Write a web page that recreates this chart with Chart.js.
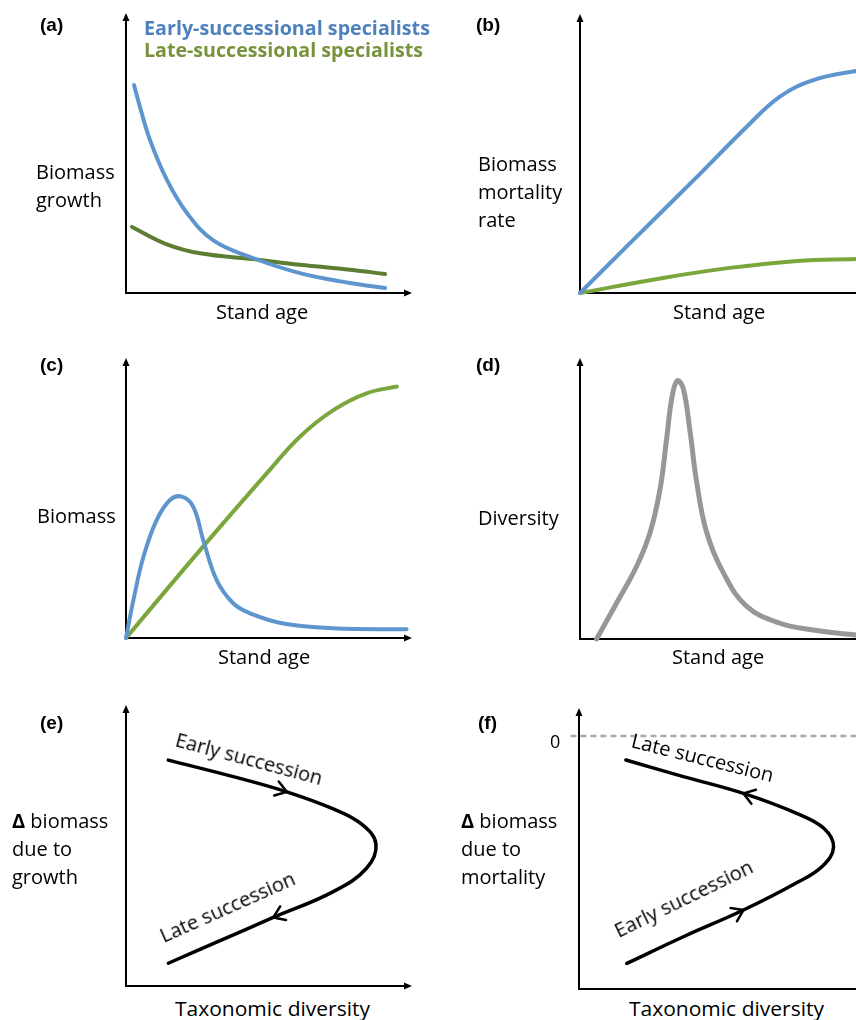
<!DOCTYPE html>
<html>
<head>
<meta charset="utf-8">
<script src="https://cdn.jsdelivr.net/npm/chart.js@4.4.1/dist/chart.umd.min.js"></script>
<style>
  html, body { margin: 0; padding: 0; background: #fff; }
  #page { position: relative; width: 856px; height: 1020px; overflow: hidden; font-family: 'Open Sans', sans-serif; }
  #page canvas { position: absolute; }
  .lbl { position: absolute; white-space: pre; font-size: 20px; line-height: 28px; color: #000; transform-origin: 0 21.76px; }
  .tag { position: absolute; font-family: 'Liberation Sans', Arial, sans-serif; font-weight: bold; font-size: 19px; line-height: 19px; }
</style>
</head>
<body>
<div id="page"></div>
<script>
// (a) biomass growth vs stand age
const growthAgeEarly = [2.8, 4.9, 8.4, 14.3, 21.3, 30.4, 44.4, 60.8, 78.3, 90.6];
const growthEarly    = [74.3, 66.4, 54.6, 40.4, 28.6, 18.9, 12.5, 7.1, 3.6, 1.8];
const growthAgeLate  = [2.1, 14.3, 25.9, 44.4, 60.8, 78.3, 90.6];
const growthLate     = [23.6, 17.4, 14.2, 12.1, 10.1, 8.3, 6.8];

// (b) biomass mortality rate vs stand age
const mortAgeEarly = [0, 17.5, 40.9, 58.3, 69.9, 81.6, 96.5, 100];
const mortEarly    = [0, 17.9, 41.6, 59.6, 70.4, 76.3, 79.6, 80.0];
const mortAgeLate  = [0, 29.0, 52.4, 75.9, 96.5, 100];
const mortLate     = [0, 5.4, 9.0, 11.5, 12.2, 12.3];

// (c) biomass vs stand age
const bioAgeEarly = [0, 2.6, 6.1, 10.7, 15.4, 19.5, 23.5, 27.0, 31.7, 37.5, 43.4, 55.0, 72.5, 98.1];
const bioEarly    = [0, 13.6, 29.0, 42.1, 49.3, 50.5, 46.9, 35.0, 20.7, 12.4, 8.8, 5.2, 3.5, 3.1];
const bioAgeLate  = [0, 25.9, 49.2, 60.8, 72.5, 84.1, 94.7];
const bioLate     = [0, 31.4, 58.8, 71.9, 81.4, 87.4, 89.8];

// (d) diversity vs stand age
const divAge    = [5.8, 12.8, 19.8, 24.5, 28.0, 30.3, 32.1, 34.0, 36.1, 38.5, 40.8, 44.3, 50.1, 58.3, 69.9, 81.6, 96.5, 100];
const diversity = [0, 12.8, 25.9, 37.9, 53.4, 71.3, 85.7, 91.9, 89.2, 73.7, 55.8, 37.9, 23.6, 11.6, 5.6, 3.2, 1.4, 1.2];

// (e) delta biomass due to growth vs taxonomic diversity (early -> late)
const growthTaxDiv = [14.8, 37.5, 56.2, 72.5, 82.5, 87.4, 84.1, 72.5, 51.5, 31.7, 14.8];
const growthDelta  = [80.4, 74.5, 69.1, 63.0, 57.5, 50.5, 41.9, 33.6, 24.4, 15.6, 8.1];

// (f) delta biomass due to mortality vs taxonomic diversity (late at top, early at bottom)
const mortTaxDiv = [16.4, 36.5, 57.5, 76.1, 85.6, 89.0, 85.0, 76.1, 57.5, 36.5, 16.7];
const mortDelta  = [81.5, 75.6, 69.6, 62.5, 57.2, 50.5, 43.6, 37.8, 28.1, 18.6, 9.1];
const mortZero   = 90;

const BLUE = '#5e95cf';
const GREEN = '#7aa63c';
const DARK_GREEN = '#5d7d32';
const GREY = '#979797';

const pts = (xs, ys) => xs.map((x, i) => ({ x: x, y: ys[i] }));

// axes with arrow heads
const arrowAxes = {
  id: 'arrowAxes',
  beforeDatasetsDraw(chart) {
    const { ctx, chartArea: { left, right, top, bottom } } = chart;
    ctx.save();
    ctx.strokeStyle = '#000';
    ctx.fillStyle = '#000';
    ctx.lineWidth = 2;
    ctx.beginPath();
    ctx.moveTo(left, top + 5);
    ctx.lineTo(left, bottom);
    ctx.lineTo(right - 5, bottom);
    ctx.stroke();
    ctx.beginPath();
    ctx.moveTo(left, top);
    ctx.lineTo(left - 3.5, top + 8);
    ctx.lineTo(left + 3.5, top + 8);
    ctx.closePath();
    ctx.fill();
    ctx.beginPath();
    ctx.moveTo(right, bottom);
    ctx.lineTo(right - 8, bottom - 3.5);
    ctx.lineTo(right - 8, bottom + 3.5);
    ctx.closePath();
    ctx.fill();
    ctx.restore();
  }
};

// open arrow heads along a curve, at a data index
const curveArrows = {
  id: 'curveArrows',
  afterDatasetsDraw(chart) {
    const ctx = chart.ctx;
    chart.data.datasets.forEach((ds, i) => {
      if (!ds.arrows) return;
      const els = chart.getDatasetMeta(i).data;
      ds.arrows.forEach(a => {
        const p = els[a.index];
        let dx = p.cp2x - p.cp1x, dy = p.cp2y - p.cp1y;
        if (!isFinite(dx) || (!dx && !dy)) {
          const q = els[a.index + 1];
          dx = q.x - p.x; dy = q.y - p.y;
        }
        const ang = Math.atan2(dy, dx) + (a.dir < 0 ? Math.PI : 0);
        const len = 13, spread = 0.6;
        ctx.save();
        ctx.strokeStyle = ds.borderColor;
        ctx.lineWidth = 2.5;
        ctx.lineCap = 'round';
        ctx.lineJoin = 'round';
        ctx.beginPath();
        ctx.moveTo(p.x - len * Math.cos(ang - spread), p.y - len * Math.sin(ang - spread));
        ctx.lineTo(p.x, p.y);
        ctx.lineTo(p.x - len * Math.cos(ang + spread), p.y - len * Math.sin(ang + spread));
        ctx.stroke();
        ctx.restore();
      });
    });
  }
};

function line(data, color, width, extra) {
  return Object.assign({
    data: data,
    borderColor: color,
    borderWidth: width,
    showLine: true,
    pointRadius: 0,
    fill: false,
    borderCapStyle: 'round',
    tension: 0.4,
    clip: 10
  }, extra || {});
}

const page = document.getElementById('page');

function makePanel(left, top, pad, datasets) {
  const cv = document.createElement('canvas');
  cv.width = 440; cv.height = 300;
  cv.style.left = left + 'px';
  cv.style.top = top + 'px';
  cv.style.width = '440px';
  cv.style.height = '300px';
  page.appendChild(cv);
  return new Chart(cv.getContext('2d'), {
    type: 'scatter',
    data: { datasets: datasets },
    options: {
      responsive: false,
      animation: false,
      events: [],
      devicePixelRatio: 1,
      layout: { padding: pad },
      plugins: { legend: { display: false }, tooltip: { enabled: false } },
      scales: {
        x: { type: 'linear', min: 0, max: 100, display: false },
        y: { type: 'linear', min: 0, max: 100, display: false }
      }
    },
    plugins: [arrowAxes, curveArrows]
  });
}

// (a)
makePanel(0, 0, { left: 126, top: 13, right: 28, bottom: 7 }, [
  line(pts(growthAgeEarly, growthEarly), BLUE, 4),
  line(pts(growthAgeLate, growthLate), DARK_GREEN, 4)
]);
// (b)
makePanel(454, 0, { left: 126, top: 14, right: 28, bottom: 7 }, [
  line(pts(mortAgeEarly, mortEarly), BLUE, 4),
  line(pts(mortAgeLate, mortLate), GREEN, 4)
]);
// (c)
makePanel(0, 345, { left: 126, top: 13, right: 28, bottom: 7 }, [
  line(pts(bioAgeEarly, bioEarly), BLUE, 4),
  line(pts(bioAgeLate, bioLate), GREEN, 4)
]);
// (d)
makePanel(454, 345, { left: 126, top: 13, right: 28, bottom: 6 }, [
  line(pts(divAge, diversity), GREY, 5)
]);
// (e)
makePanel(0, 695, { left: 126, top: 10, right: 28, bottom: 9 }, [
  line(pts(growthTaxDiv, growthDelta), '#000', 3.5, {
    arrows: [{ index: 2, dir: 1 }, { index: 8, dir: 1 }]
  })
]);
// (f)
makePanel(453, 695, { left: 126, top: 13, right: 28, bottom: 6 }, [
  line([{ x: -3, y: mortZero }, { x: 100, y: mortZero }], '#aaaaaa', 2.5, {
    borderDash: [6, 4], borderCapStyle: 'butt', clip: false, tension: 0
  }),
  line(pts(mortTaxDiv, mortDelta), '#000', 3.5, {
    arrows: [{ index: 2, dir: -1 }, { index: 8, dir: -1 }]
  })
]);

// text
const texts = [
  { h: '(a)', x: 40, y: 14.5, tag: true },
  { h: '(b)', x: 476, y: 14.5, tag: true },
  { h: '(c)', x: 40, y: 354.5, tag: true },
  { h: '(d)', x: 476, y: 354.5, tag: true },
  { h: '(e)', x: 40, y: 712.5, tag: true },
  { h: '(f)', x: 478, y: 712.5, tag: true },
  { h: 'Early-successional specialists', x: 144, y: 13.5, bold: true, color: '#4f81bd', w: 286 },
  { h: 'Late-successional specialists', x: 144, y: 35.5, bold: true, color: '#77933c', w: 279 },
  { h: 'Biomass\ngrowth', x: 36, y: 157.5 },
  { h: 'Stand age', x: 216, y: 297.5 },
  { h: 'Biomass\nmortality\nrate', x: 478, y: 149.5 },
  { h: 'Stand age', x: 673, y: 297.5 },
  { h: 'Biomass', x: 37, y: 502 },
  { h: 'Stand age', x: 218, y: 643 },
  { h: 'Diversity', x: 478, y: 503.5 },
  { h: 'Stand age', x: 672, y: 642.5 },
  { h: '<b>\u0394</b> biomass\ndue to\ngrowth', x: 12, y: 807 },
  { h: '<b>\u0394</b> biomass\ndue to\nmortality', x: 461, y: 807 },
  { h: 'Taxonomic diversity', x: 175, y: 995, w: 195 },
  { h: 'Taxonomic diversity', x: 629, y: 995, w: 195 },
  { h: '0', x: 550, y: 727, size: 18 },
  { h: 'Early succession', x: 174, y: 725, rot: 15 },
  { h: 'Late succession', x: 164, y: 921.5, rot: -24 },
  { h: 'Late succession', x: 630, y: 726, rot: 14 },
  { h: 'Early succession', x: 619, y: 916.5, rot: -26 }
];

texts.forEach(t => {
  const el = document.createElement('div');
  el.className = t.tag ? 'tag' : 'lbl';
  el.innerHTML = t.h;
  el.style.left = t.x + 'px';
  el.style.top = t.y + 'px';
  if (t.bold) el.style.fontWeight = 'bold';
  if (t.color) el.style.color = t.color;
  if (t.size) el.style.fontSize = t.size + 'px';
  page.appendChild(el);
  const tf = [];
  if (t.rot) tf.push('rotate(' + t.rot + 'deg)');
  if (t.w) {
    const wNow = el.getBoundingClientRect().width;
    tf.push('scaleX(' + (t.w / wNow).toFixed(3) + ')');
  }
  if (tf.length) el.style.transform = tf.join(' ');
});
</script>
</body>
</html>
